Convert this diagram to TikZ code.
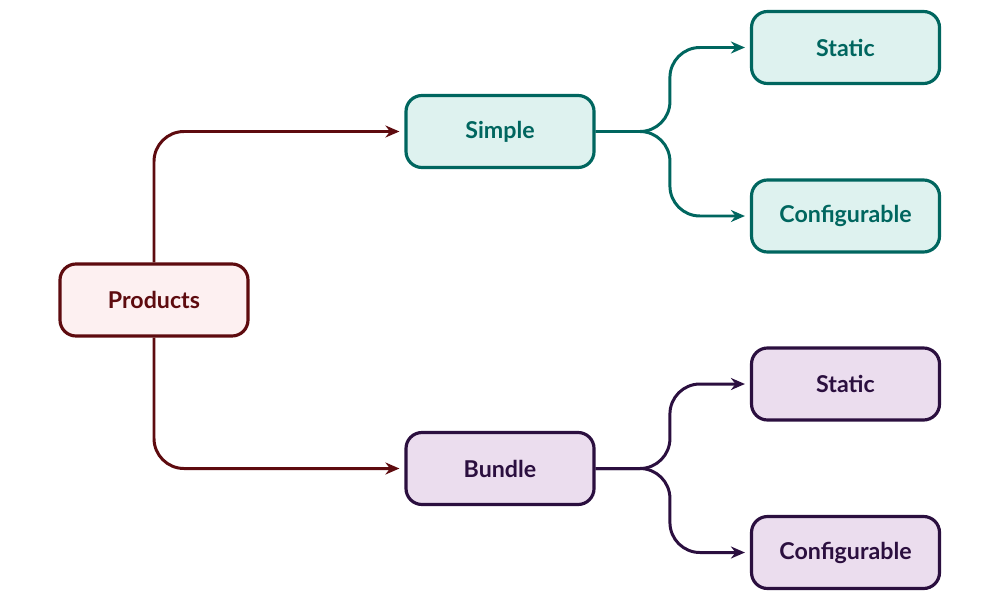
\documentclass[tikz,border=0pt]{standalone}
\usepackage{fontspec}
\setmainfont{Lato}
\usetikzlibrary{positioning,arrows.meta}
\definecolor{prodline}{HTML}{5E0B0F}
\definecolor{prodfill}{HTML}{FDF0F1}
\definecolor{simpline}{HTML}{00665F}
\definecolor{simpfill}{HTML}{DEF2EF}
\definecolor{bundline}{HTML}{2B0F3F}
\definecolor{bundfill}{HTML}{EBDDEE}
\tikzset{
  box/.style={rectangle, rounded corners=0.16cm, line width=0.9pt, minimum width=1.88cm, minimum height=0.72cm, font=\fontsize{6.6}{7.5}\selectfont\bfseries},
  link/.style={line width=0.85pt, rounded corners=0.3cm, -{Stealth[length=0.14cm, width=0.12cm]}, shorten >=0.05cm}
}
\begin{document}
\begin{tikzpicture}
  \useasboundingbox (0,0) rectangle (10,6);
  \node[box, draw=prodline, fill=prodfill, text=prodline] (products) at (1.54,3.0) {Products};
  \node[box, draw=simpline, fill=simpfill, text=simpline] (simple) at (5.0,4.685) {Simple};
  \node[box, draw=bundline, fill=bundfill, text=bundline] (bundle) at (5.0,1.315) {Bundle};
  \node[box, draw=simpline, fill=simpfill, text=simpline] (sstatic) at (8.455,5.525) {Static};
  \node[box, draw=simpline, fill=simpfill, text=simpline] (sconfig) at (8.455,3.84) {Configurable};
  \node[box, draw=bundline, fill=bundfill, text=bundline] (bstatic) at (8.455,2.16) {Static};
  \node[box, draw=bundline, fill=bundfill, text=bundline] (bconfig) at (8.455,0.475) {Configurable};

  \draw[link, prodline] (products.north) |- (simple.west);
  \draw[link, prodline] (products.south) |- (bundle.west);
  \draw[link, simpline] (simple.east) -| ([xshift=-0.8cm]sstatic.west) -- (sstatic.west);
  \draw[link, simpline] (simple.east) -| ([xshift=-0.8cm]sconfig.west) -- (sconfig.west);
  \draw[link, bundline] (bundle.east) -| ([xshift=-0.8cm]bstatic.west) -- (bstatic.west);
  \draw[link, bundline] (bundle.east) -| ([xshift=-0.8cm]bconfig.west) -- (bconfig.west);
\end{tikzpicture}
\end{document}
